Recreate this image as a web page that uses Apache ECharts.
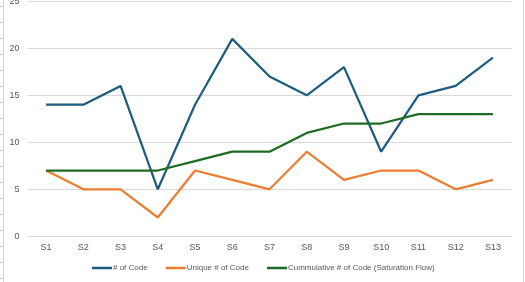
<!DOCTYPE html>
<html><head><meta charset="utf-8">
<script src="https://cdn.jsdelivr.net/npm/echarts@6/dist/echarts.min.js"></script>
<style>html,body{margin:0;padding:0;background:#fff}#c{width:525px;height:282px}</style>
</head><body><div id="c"></div>
<script>
const categories = ['S1','S2','S3','S4','S5','S6','S7','S8','S9','S10','S11','S12','S13'];
const numCode = [14,14,16,5,14,21,17,15,18,9,15,16,19];
const uniqueCode = [7,5,5,2,7,6,5,9,6,7,7,5,6];
const cumulativeCode = [7,7,7,7,8,9,9,11,12,12,13,13,13];
const seriesNames = ['# of Code','Unique # of Code','Cummulative # of Code (Saturation Flow)'];

const chart = echarts.init(document.getElementById('c'));
const font = 'Liberation Sans, Arial, sans-serif';
const graphics = [
  {type:'line', shape:{x1:3.5,y1:0,x2:3.5,y2:282}, style:{stroke:'#d0d0d0',lineWidth:1}, silent:true},
  {type:'line', shape:{x1:523.5,y1:0,x2:523.5,y2:282}, style:{stroke:'#d0d0d0',lineWidth:1}, silent:true}
];
for (let y = 6; y < 282; y += 16) {
  graphics.push({type:'line', shape:{x1:0,y1:y+0.5,x2:3,y2:y+0.5}, style:{stroke:'#d0d0d0',lineWidth:1}, silent:true});
}
function mk(name, data, color) {
  return {name, type:'line', data, symbol:'none', showSymbol:false,
    lineStyle:{color, width:2.25}, itemStyle:{color}, animation:false};
}
chart.setOption({
  animation:false,
  graphic: graphics,
  grid:{left:27.5, right:13.5, top:1.3, bottom:45.7, outerBoundsMode:'none', containLabel:false},
  legend:{
    bottom:10, left:92, padding:0, itemWidth:20, itemHeight:2.5, itemGap:18, icon:'rect',
    textStyle:{color:'#595959', fontSize:8, fontFamily:font, padding:[0,0,0,-4]},
    data: seriesNames
  },
  xAxis:{type:'category', data:categories, boundaryGap:true,
    axisLine:{lineStyle:{color:'#d9d9d9'}}, axisTick:{show:false},
    axisLabel:{color:'#595959', fontSize:9, fontFamily:font, margin:7}},
  yAxis:{type:'value', min:0, max:25, interval:5,
    axisLine:{show:false}, axisTick:{show:false},
    splitLine:{lineStyle:{color:'#d9d9d9', width:1}},
    axisLabel:{color:'#595959', fontSize:9, fontFamily:font, margin:8}},
  series:[
    mk(seriesNames[0], numCode, '#1d5d80'),
    mk(seriesNames[1], uniqueCode, '#ed7d31'),
    mk(seriesNames[2], cumulativeCode, '#1e6b24')
  ]
});
</script></body></html>
